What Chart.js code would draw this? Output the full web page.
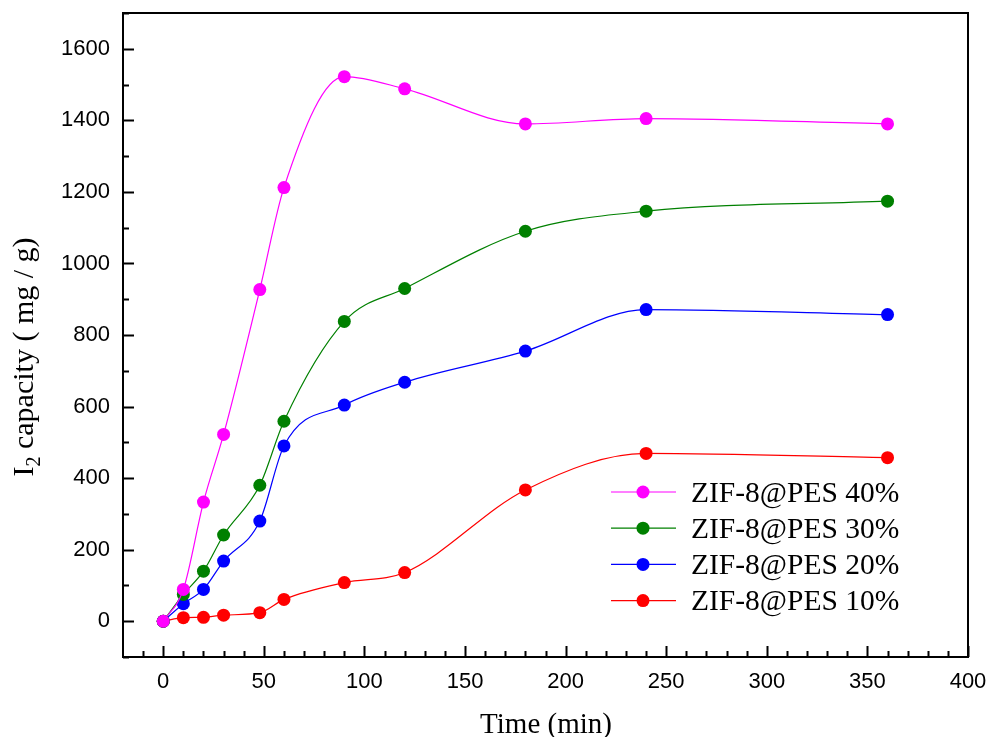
<!DOCTYPE html>
<html>
<head>
<meta charset="utf-8">
<script src="https://cdn.jsdelivr.net/npm/chart.js@4.4.1/dist/chart.umd.min.js"></script>
<style>
  html, body { margin: 0; padding: 0; background: #fff; }
  #wrap { width: 990px; height: 737px; }
</style>
</head>
<body>
<div id="wrap"><canvas id="uptake-chart" width="990" height="737"></canvas></div>
<script>
// sampling times (min)
const times = [0, 10, 20, 30, 48, 60, 90, 120, 180, 240, 360];

// iodine uptake, mg/g
const pes40 = [0, 89, 333, 522, 927, 1212, 1522, 1488, 1390, 1405, 1390];
const pes30 = [0, 75, 140, 241, 380, 559, 838, 930, 1090, 1146, 1174];
const pes20 = [0, 49, 89, 168, 280, 490, 604, 668, 755, 871, 857];
const pes10 = [0, 10, 11, 17, 24, 61, 108, 136, 367, 469, 457];

const seriesNames = ["ZIF-8@PES 40%", "ZIF-8@PES 30%", "ZIF-8@PES 20%", "ZIF-8@PES 10%"];
const seriesColors = ["#ff00ff", "#008000", "#0000ff", "#ff0000"];

const xTicks = [0, 50, 100, 150, 200, 250, 300, 350, 400];
const yTicks = [0, 200, 400, 600, 800, 1000, 1200, 1400, 1600];

function toPoints(vals) {
  return times.map((t, i) => ({ x: t, y: vals[i] }));
}

const datasets = [pes40, pes30, pes20, pes10].map((vals, i) => ({
  label: seriesNames[i],
  data: toPoints(vals),
  borderColor: seriesColors[i],
  backgroundColor: seriesColors[i],
  borderWidth: 1.2,
  pointRadius: 6.5,
  pointBorderWidth: 0,
  pointHoverRadius: 6.5,
  cubicInterpolationMode: "monotone",
  fill: false,
}));

const serif = "'Liberation Serif', 'Times New Roman', serif";

// frame, inward ticks, axis titles and the legend box
const decorations = {
  id: "decorations",
  afterDraw(chart) {
    const ctx = chart.ctx;
    const a = chart.chartArea;
    const xs = chart.scales.x;
    const ys = chart.scales.y;
    ctx.save();
    ctx.strokeStyle = "#000";
    ctx.lineWidth = 2;
    ctx.strokeRect(a.left, a.top, a.right - a.left, a.bottom - a.top);

    ctx.beginPath();
    for (let v = -10; v <= 400; v += 10) {
      const px = Math.round(xs.getPixelForValue(v)) + 0.5;
      const len = v % 50 === 0 ? 11 : 6;
      ctx.moveTo(px, a.bottom);
      ctx.lineTo(px, a.bottom - len);
    }
    for (let v = -100; v <= 1700; v += 100) {
      const py = Math.round(ys.getPixelForValue(v)) + 0.5;
      const len = v % 200 === 0 ? 11 : 6;
      ctx.moveTo(a.left, py);
      ctx.lineTo(a.left + len, py);
    }
    ctx.stroke();

    // x title
    ctx.fillStyle = "#000";
    ctx.font = "29px " + serif;
    ctx.textAlign = "center";
    ctx.textBaseline = "alphabetic";
    ctx.fillText("Time (min)", 546, 733);

    // y title with subscript
    ctx.save();
    ctx.translate(33, 357);
    ctx.rotate(-Math.PI / 2);
    const big = "30px " + serif;
    const small = "20px " + serif;
    const parts = [["I", big, 0], ["2", small, 7], [" capacity ( mg / g)", big, 0]];
    let total = 0;
    parts.forEach(p => { ctx.font = p[1]; total += ctx.measureText(p[0]).width; });
    let cx = -total / 2;
    ctx.textAlign = "left";
    parts.forEach(p => {
      ctx.font = p[1];
      ctx.fillText(p[0], cx, p[2]);
      cx += ctx.measureText(p[0]).width;
    });
    ctx.restore();

    // legend
    ctx.font = "29.5px " + serif;
    ctx.textAlign = "left";
    ctx.textBaseline = "middle";
    chart.data.datasets.forEach((ds, i) => {
      const y = 492 + i * 36.2;
      ctx.strokeStyle = ds.borderColor;
      ctx.lineWidth = 1.2;
      ctx.beginPath();
      ctx.moveTo(611, y);
      ctx.lineTo(676, y);
      ctx.stroke();
      ctx.fillStyle = ds.backgroundColor;
      ctx.beginPath();
      ctx.arc(643, y, 6.5, 0, Math.PI * 2);
      ctx.fill();
      ctx.fillStyle = "#000";
      ctx.fillText(ds.label, 691, y + 2);
    });
    ctx.restore();
  },
};

const tickFont = { family: "'Liberation Sans', Arial, sans-serif", size: 22 };

const ctx = document.getElementById("uptake-chart").getContext("2d");
new Chart(ctx, {
  type: "line",
  data: { datasets: datasets },
  options: {
    responsive: false,
    animation: false,
    layout: { padding: { top: 13, right: 22, left: 0, bottom: 0 } },
    plugins: {
      legend: { display: false },
      tooltip: { enabled: false },
    },
    scales: {
      x: {
        type: "linear",
        min: -20,
        max: 400,
        grid: { display: false, drawTicks: false },
        border: { display: false },
        afterBuildTicks: (s) => { s.ticks = xTicks.map(v => ({ value: v })); },
        afterFit: (s) => {
          s.height = 80;
          s.paddingLeft = 0;
          s.paddingRight = 0;
        },
        ticks: {
          padding: 12,
          color: "#000",
          font: tickFont,
          callback: (v) => String(v),
        },
      },
      y: {
        min: -100,
        max: 1700,
        grid: { display: false, drawTicks: false },
        border: { display: false },
        afterBuildTicks: (s) => { s.ticks = yTicks.map(v => ({ value: v })); },
        afterFit: (s) => {
          s.width = 123;
          s.paddingTop = 0;
          s.paddingBottom = 0;
        },
        ticks: {
          padding: 13,
          color: "#000",
          font: tickFont,
          callback: (v) => String(v),
        },
      },
    },
  },
  plugins: [decorations],
});
</script>
</body>
</html>
